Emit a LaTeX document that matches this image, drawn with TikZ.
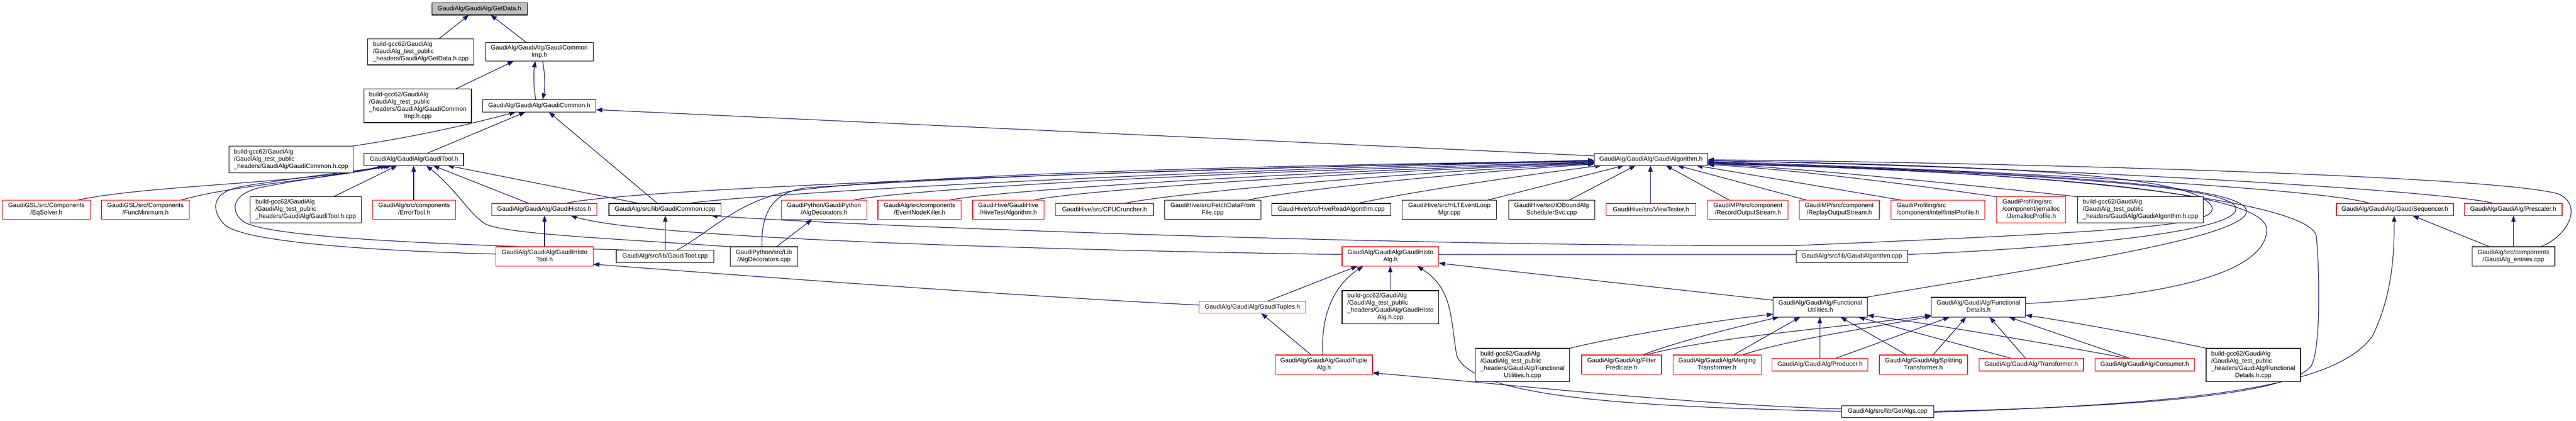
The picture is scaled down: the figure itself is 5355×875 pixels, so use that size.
\documentclass[tikz,border=0pt]{standalone}
\usepackage{fontspec}
\setmainfont{Liberation Sans}
\usetikzlibrary{arrows.meta,backgrounds}
\definecolor{edgec}{HTML}{191970}
\newcommand\mlab[2]{\begin{tabular}{@{}l@{}}#1\\\multicolumn{1}{@{}c@{}}{#2}\end{tabular}}
\newcommand\bx[7]{\node[#6, minimum width={(#3)-(#2)}, minimum height={(#5)-(#4)}] (#1) at ({((#2)+(#3))/2},{((#4)+(#5))/2}) {#7};}
\begin{document}
\begin{tikzpicture}[x=1pt,y=-1pt,
  basebox/.style={rectangle, draw, fill=white, inner sep=0pt, outer sep=0pt, line width=1.3pt, font=\fontsize{13}{15}\selectfont},
  blkbox/.style={basebox, draw=black},
  redbox/.style={basebox, draw=red},
  topbox/.style={basebox, draw=black, fill=gray!50},
  edge/.style={draw=edgec, line width=1.3pt, -{Triangle[length=13pt,width=9.5pt]}, fill=none}]
\useasboundingbox (0,0) rectangle (5355,875);
% ---------- nodes ----------
\bx{getdata}{898}{1096}{6}{31}{topbox}{GaudiAlg/GaudiAlg/GetData.h}
\bx{getdatacpp}{764}{985}{81}{135}{blkbox}{\mlab{build-gcc62/GaudiAlg\\/GaudiAlg\_test\_public}{\_headers/GaudiAlg/GetData.h.cpp}}
\bx{gcimp}{1009}{1233}{88}{127}{blkbox}{\mlab{GaudiAlg/GaudiAlg/GaudiCommon}{Imp.h}}
\bx{gcimpcpp}{757}{980}{185}{255}{blkbox}{\mlab{build-gcc62/GaudiAlg\\/GaudiAlg\_test\_public\\\_headers/GaudiAlg/GaudiCommon}{Imp.h.cpp}}
\bx{gc}{1003}{1239}{207}{233}{blkbox}{GaudiAlg/GaudiAlg/GaudiCommon.h}
\bx{gccpp}{476}{734}{304}{359}{blkbox}{\mlab{build-gcc62/GaudiAlg\\/GaudiAlg\_test\_public}{\_headers/GaudiAlg/GaudiCommon.h.cpp}}
\bx{tool}{757}{964}{319}{344}{blkbox}{GaudiAlg/GaudiAlg/GaudiTool.h}
\bx{algo}{3314}{3550}{319}{344}{blkbox}{GaudiAlg/GaudiAlg/GaudiAlgorithm.h}
% row F
\bx{eqsolver}{5}{188}{416}{456}{redbox}{\mlab{GaudiGSL/src/Components}{/EqSolver.h}}
\bx{funcmin}{211}{394}{416}{456}{redbox}{\mlab{GaudiGSL/src/Components}{/FuncMinimum.h}}
\bx{toolhcpp}{520}{751}{409}{463}{blkbox}{\mlab{build-gcc62/GaudiAlg\\/GaudiAlg\_test\_public}{\_headers/GaudiAlg/GaudiTool.h.cpp}}
\bx{errortool}{775}{947}{416}{456}{redbox}{\mlab{GaudiAlg/src/components}{/ErrorTool.h}}
\bx{histos}{1022}{1241}{423}{448}{redbox}{GaudiAlg/GaudiAlg/GaudiHistos.h}
\bx{gcicpp}{1266}{1499}{423}{448}{blkbox}{GaudiAlg/src/lib/GaudiCommon.icpp}
\bx{algdech}{1624}{1802}{416}{456}{redbox}{\mlab{GaudiPython/GaudiPython}{/AlgDecorators.h}}
\bx{enk}{1825}{1998}{416}{456}{redbox}{\mlab{GaudiAlg/src/components}{/EventNodeKiller.h}}
\bx{hivetest}{2022}{2170}{416}{456}{redbox}{\mlab{GaudiHive/GaudiHive}{/HiveTestAlgorithm.h}}
\bx{cpu}{2194}{2398}{423}{448}{redbox}{GaudiHive/src/CPUCruncher.h}
\bx{fetch}{2421}{2621}{416}{456}{blkbox}{\mlab{GaudiHive/src/FetchDataFrom}{File.cpp}}
\bx{hiveread}{2644}{2891}{423}{448}{blkbox}{GaudiHive/src/HiveReadAlgorithm.cpp}
\bx{hlt}{2915}{3111}{416}{456}{blkbox}{\mlab{GaudiHive/src/HLTEventLoop}{Mgr.cpp}}
\bx{iobound}{3136}{3315}{416}{456}{blkbox}{\mlab{GaudiHive/src/IOBoundAlg}{SchedulerSvc.cpp}}
\bx{view}{3339}{3525}{423}{448}{redbox}{GaudiHive/src/ViewTester.h}
\bx{record}{3550}{3717}{416}{456}{redbox}{\mlab{GaudiMP/src/component}{/RecordOutputStream.h}}
\bx{replay}{3740}{3907}{416}{456}{redbox}{\mlab{GaudiMP/src/component}{/ReplayOutputStream.h}}
\bx{intel}{3931}{4126}{416}{456}{redbox}{\mlab{GaudiProfiling/src}{/component/intel/IntelProfile.h}}
\bx{jemalloc}{4151}{4294}{409}{463}{redbox}{\mlab{GaudiProfiling/src\\/component/jemalloc}{/JemallocProfile.h}}
\bx{algohcpp}{4319}{4580}{409}{463}{blkbox}{\mlab{build-gcc62/GaudiAlg\\/GaudiAlg\_test\_public}{\_headers/GaudiAlg/GaudiAlgorithm.h.cpp}}
\bx{seq}{4857}{5100}{423}{448}{redbox}{GaudiAlg/GaudiAlg/GaudiSequencer.h}
\bx{presc}{5123}{5326}{423}{448}{redbox}{GaudiAlg/GaudiAlg/Prescaler.h}
% row G
\bx{histotool}{1031}{1233}{513}{553}{redbox}{\mlab{GaudiAlg/GaudiAlg/GaudiHisto}{Tool.h}}
\bx{toolcppsrc}{1281}{1484}{520}{546}{blkbox}{GaudiAlg/src/lib/GaudiTool.cpp}
\bx{algdeccpp}{1518}{1658}{513}{553}{blkbox}{\mlab{GaudiPython/src/Lib}{/AlgDecorators.cpp}}
\bx{histoalg}{2790}{2991}{513}{553}{redbox}{\mlab{GaudiAlg/GaudiAlg/GaudiHisto}{Alg.h}}
\bx{algocpp}{3734}{3965}{520}{546}{blkbox}{GaudiAlg/src/lib/GaudiAlgorithm.cpp}
\bx{entries}{5139}{5311}{513}{553}{blkbox}{\mlab{GaudiAlg/src/components}{/GaudiAlg\_entries.cpp}}
% row H
\bx{histoalgcpp}{2790}{2991}{604}{673}{blkbox}{\mlab{build-gcc62/GaudiAlg\\/GaudiAlg\_test\_public\\\_headers/GaudiAlg/GaudiHisto}{Alg.h.cpp}}
\bx{tuples}{2493}{2714}{626}{651}{redbox}{GaudiAlg/GaudiAlg/GaudiTuples.h}
\bx{futil}{3686}{3882}{618}{659}{blkbox}{\mlab{GaudiAlg/GaudiAlg/Functional}{Utilities.h}}
\bx{fdet}{4015}{4211}{618}{659}{blkbox}{\mlab{GaudiAlg/GaudiAlg/Functional}{Details.h}}
% row I
\bx{tuplealg}{2651}{2853}{738}{778}{redbox}{\mlab{GaudiAlg/GaudiAlg/GaudiTuple}{Alg.h}}
\bx{futilcpp}{3067}{3263}{724}{793}{blkbox}{\mlab{build-gcc62/GaudiAlg\\/GaudiAlg\_test\_public\\\_headers/GaudiAlg/Functional}{Utilities.h.cpp}}
\bx{filter}{3288}{3454}{738}{778}{redbox}{\mlab{GaudiAlg/GaudiAlg/Filter}{Predicate.h}}
\bx{merging}{3478}{3661}{738}{778}{redbox}{\mlab{GaudiAlg/GaudiAlg/Merging}{Transformer.h}}
\bx{producer}{3684}{3883}{745}{771}{redbox}{GaudiAlg/GaudiAlg/Producer.h}
\bx{split}{3907}{4090}{738}{778}{redbox}{\mlab{GaudiAlg/GaudiAlg/Splitting}{Transformer.h}}
\bx{transf}{4114}{4331}{745}{771}{redbox}{GaudiAlg/GaudiAlg/Transformer.h}
\bx{consumer}{4355}{4562}{745}{771}{redbox}{GaudiAlg/GaudiAlg/Consumer.h}
\bx{fdetcpp}{4586}{4782}{724}{793}{blkbox}{\mlab{build-gcc62/GaudiAlg\\/GaudiAlg\_test\_public\\\_headers/GaudiAlg/Functional}{Details.h.cpp}}
% row J
\bx{getalgs}{3828}{4020}{843}{868}{blkbox}{GaudiAlg/src/lib/GetAlgs.cpp}
% ---------- edges ----------
\begin{pgfonlayer}{background}
\draw[edge] (getdatacpp.north -| 912,0) -- (getdata.south -| 975,0);
\draw[edge] (gcimp.north -| 1094,0) -- (getdata.south -| 1020,0);
\draw[edge] (gcimpcpp.north -| 947,0) -- (gcimp.south -| 1068,0);
\draw[edge] (gc.north -| 1114,0) .. controls (1109,185) and (1109,150) .. (gcimp.south -| 1113,0);
\draw[edge] (gcimp.south -| 1128,0) .. controls (1133,150) and (1133,185) .. (gc.north -| 1128,0);
\draw[edge] (gccpp.north -| 730,0) .. controls (880,282) and (1000,252) .. (gc.south -| 1072,0);
\draw[edge] (tool.north -| 887,0) -- (gc.south -| 1092,0);
\draw[edge] (gcicpp.north -| 1367,0) -- (gc.south -| 1141,0);
\draw[edge] (algo.west |- 0,324) -- (gc.east |- 0,228);
% GaudiTool.h
\draw[edge] (eqsolver.north -| 161,0) .. controls (300,385) and (650,380) .. (tool.south -| 798,0);
\draw[edge] (funcmin.north -| 376,0) .. controls (480,385) and (700,370) .. (tool.south -| 804,0);
\draw[edge] (toolhcpp.north -| 693,0) -- (tool.south -| 826,0);
\draw[edge] (errortool.north -| 860,0) -- (tool.south -| 860,0);
\draw[edge] (histos.north -| 1100,0) -- (tool.south -| 900,0);
\draw[edge] (gcicpp.north -| 1330,0) -- (tool.south -| 930,0);
\draw[edge] (algdeccpp.north -| 1520,0) .. controls (1300,497) and (1060,488) .. (1010,466) .. controls (975,445) and (950,395) .. (tool.south -| 886,0);
\draw[edge] (toolcppsrc.north -| 1310,0) .. controls (1000,510) and (560,498) .. (505,460) .. controls (480,440) and (478,405) .. (540,390) .. controls (640,370) and (760,355) .. (tool.south -| 815,0);
\draw[edge] (histotool.west |- 0,528) .. controls (800,522) and (500,505) .. (465,465) .. controls (438,435) and (440,400) .. (500,388) .. controls (620,368) and (750,355) .. (tool.south -| 810,0);
% GaudiHistos / icpp
\draw[edge] (histotool.north -| 1132,0) -- (histos.south -| 1132,0);
\draw[edge] (histoalg.west |- 0,529) .. controls (2200,520) and (1350,497) .. (histos.south -| 1186,0);
\draw[edge] (toolcppsrc.north -| 1383,0) -- (gcicpp.south -| 1383,0);
\draw[edge] (algo.east |- 0,334) .. controls (4250,345) and (4570,370) .. (4598,430) .. controls (4612,468) and (4450,480) .. (3740,510) .. controls (3000,514) and (1800,472) .. (gcicpp.south -| 1478,0);
\draw[edge] (algdeccpp.north -| 1614,0) -- (algdech.south -| 1688,0);
% tuples / histoalg
\draw[edge] (tuples.west |- 0,634) .. controls (2200,620) and (1700,585) .. (histotool.east |- 0,549);
\draw[edge] (tuples.north -| 2635,0) -- (histoalg.south -| 2822,0);
\draw[edge] (tuplealg.north -| 2750,0) .. controls (2745,660) and (2770,595) .. (histoalg.south -| 2834,0);
\draw[edge] (histoalgcpp.north -| 2890,0) -- (histoalg.south -| 2890,0);
\draw[edge] (getalgs.west |- 0,855) .. controls (3400,845) and (3060,828) .. (3028,738) .. controls (3015,660) and (3020,600) .. (histoalg.south -| 2946,0);
\draw[edge] (futil.west |- 0,624) -- (histoalg.east |- 0,547);
\draw[edge] (tuplealg.north -| 2726,0) -- (tuples.south -| 2622,0);
\draw[edge] (getalgs.west |- 0,850) .. controls (3500,840) and (3150,800) .. (tuplealg.east |- 0,775);
% GaudiAlgorithm.h from the left
\draw[edge] (histos.north -| 1175,0) .. controls (1260,400) and (2000,362) .. (algo.west |- 0,333);
\draw[edge] (gcicpp.north -| 1430,0) .. controls (1500,410) and (2200,362) .. (algo.west |- 0,334);
\draw[edge] (toolcppsrc.north -| 1407,0) .. controls (1480,480) and (1530,420) .. (1640,398) .. controls (1900,360) and (2800,340) .. (algo.west |- 0,335);
\draw[edge] (algdeccpp.north -| 1584,0) .. controls (1582,450) and (1600,398) .. (1680,390) .. controls (2100,362) and (2800,342) .. (algo.west |- 0,336);
\draw[edge] (algdech.north -| 1775,0) .. controls (1850,398) and (2400,360) .. (algo.west |- 0,337);
\draw[edge] (enk.north -| 1974,0) .. controls (2040,400) and (2600,360) .. (algo.west |- 0,338);
\draw[edge] (hivetest.north -| 2150,0) .. controls (2210,400) and (2700,362) .. (algo.west |- 0,339);
\draw[edge] (cpu.north -| 2336,0) .. controls (2400,408) and (2800,365) .. (algo.west |- 0,340);
\draw[edge] (fetch.north -| 2594,0) .. controls (2650,402) and (2950,365) .. (algo.west |- 0,341);
\draw[edge] (hiveread.north -| 2821,0) .. controls (2950,395) and (3200,360) .. (algo.south -| 3329,0);
\draw[edge] (hlt.north -| 3092,0) -- (algo.south -| 3376,0);
\draw[edge] (iobound.north -| 3262,0) -- (algo.south -| 3400,0);
\draw[edge] (view.north -| 3431,0) -- (algo.south -| 3431,0);
\draw[edge] (record.north -| 3595,0) -- (algo.south -| 3463,0);
\draw[edge] (replay.north -| 3756,0) -- (algo.south -| 3487,0);
\draw[edge] (intel.north -| 3953,0) -- (algo.south -| 3526,0);
\draw[edge] (jemalloc.north -| 4151,0) .. controls (3950,380) and (3700,350) .. (algo.east |- 0,342);
\draw[edge] (algohcpp.north -| 4320,0) .. controls (4100,385) and (3750,350) .. (algo.east |- 0,340);
% GaudiAlgorithm.h from the right
\draw[edge] (seq.north -| 4927,0) .. controls (4850,395) and (4200,355) .. (algo.east |- 0,336);
\draw[edge] (presc.north -| 5185,0) .. controls (5100,398) and (4300,348) .. (algo.east |- 0,334);
\draw[edge] (entries.north -| 5281,0) .. controls (5340,490) and (5370,425) .. (5318,403) .. controls (5200,368) and (4300,340) .. (algo.east |- 0,332);
\draw[edge] (getalgs.east |- 0,855) .. controls (4450,845) and (4760,820) .. (4805,760) .. controls (4825,720) and (4822,560) .. (4815,490) .. controls (4800,420) and (4300,355) .. (algo.east |- 0,341);
\draw[edge] (getalgs.east |- 0,857) .. controls (4600,838) and (4860,800) .. (4932,698) .. controls (4975,610) and (4977,520) .. (seq.south -| 4977,0);
\draw[edge] (fdet.east |- 0,631) .. controls (4450,618) and (4705,580) .. (4712,480) .. controls (4718,410) and (4400,365) .. (algo.east |- 0,339);
\draw[edge] (futil.north -| 3878,0) .. controls (4250,555) and (4665,495) .. (4670,440) .. controls (4674,395) and (4400,362) .. (algo.east |- 0,338);
\draw[edge] (histoalg.east |- 0,529) -- (algocpp.west |- 0,529) -- (algocpp.east |- 0,529) .. controls (4300,515) and (4645,482) .. (4648,435) .. controls (4650,398) and (4450,368) .. (algo.east |- 0,337);
% functional
\draw[edge] (futilcpp.north -| 3263,0) .. controls (3350,702) and (3550,668) .. (futil.west |- 0,653);
\draw[edge] (filter.north -| 3414,0) .. controls (3480,712) and (3600,682) .. (futil.south -| 3698,0);
\draw[edge] (filter.north -| 3420,0) .. controls (3560,700) and (3850,678) .. (fdet.west |- 0,655);
\draw[edge] (merging.north -| 3603,0) -- (futil.south -| 3742,0);
\draw[edge] (merging.north -| 3621,0) .. controls (3720,705) and (3900,680) .. (fdet.west |- 0,657);
\draw[edge] (producer.north -| 3783,0) -- (futil.south -| 3783,0);
\draw[edge] (producer.north -| 3815,0) -- (fdet.south -| 4053,0);
\draw[edge] (split.north -| 3964,0) -- (futil.south -| 3826,0);
\draw[edge] (split.north -| 4018,0) -- (fdet.south -| 4087,0);
\draw[edge] (transf.north -| 4182,0) -- (futil.south -| 3863,0);
\draw[edge] (transf.north -| 4211,0) -- (fdet.south -| 4136,0);
\draw[edge] (consumer.north -| 4423,0) .. controls (4250,712) and (4000,672) .. (futil.east |- 0,655);
\draw[edge] (consumer.north -| 4428,0) -- (fdet.south -| 4176,0);
\draw[edge] (fdetcpp.north -| 4588,0) .. controls (4450,695) and (4300,668) .. (fdet.east |- 0,655);
% sequencer / prescaler
\draw[edge] (entries.north -| 5176,0) -- (seq.south -| 5015,0);
\draw[edge] (entries.north -| 5225,0) -- (presc.south -| 5225,0);
\end{pgfonlayer}
\end{tikzpicture}
\end{document}
